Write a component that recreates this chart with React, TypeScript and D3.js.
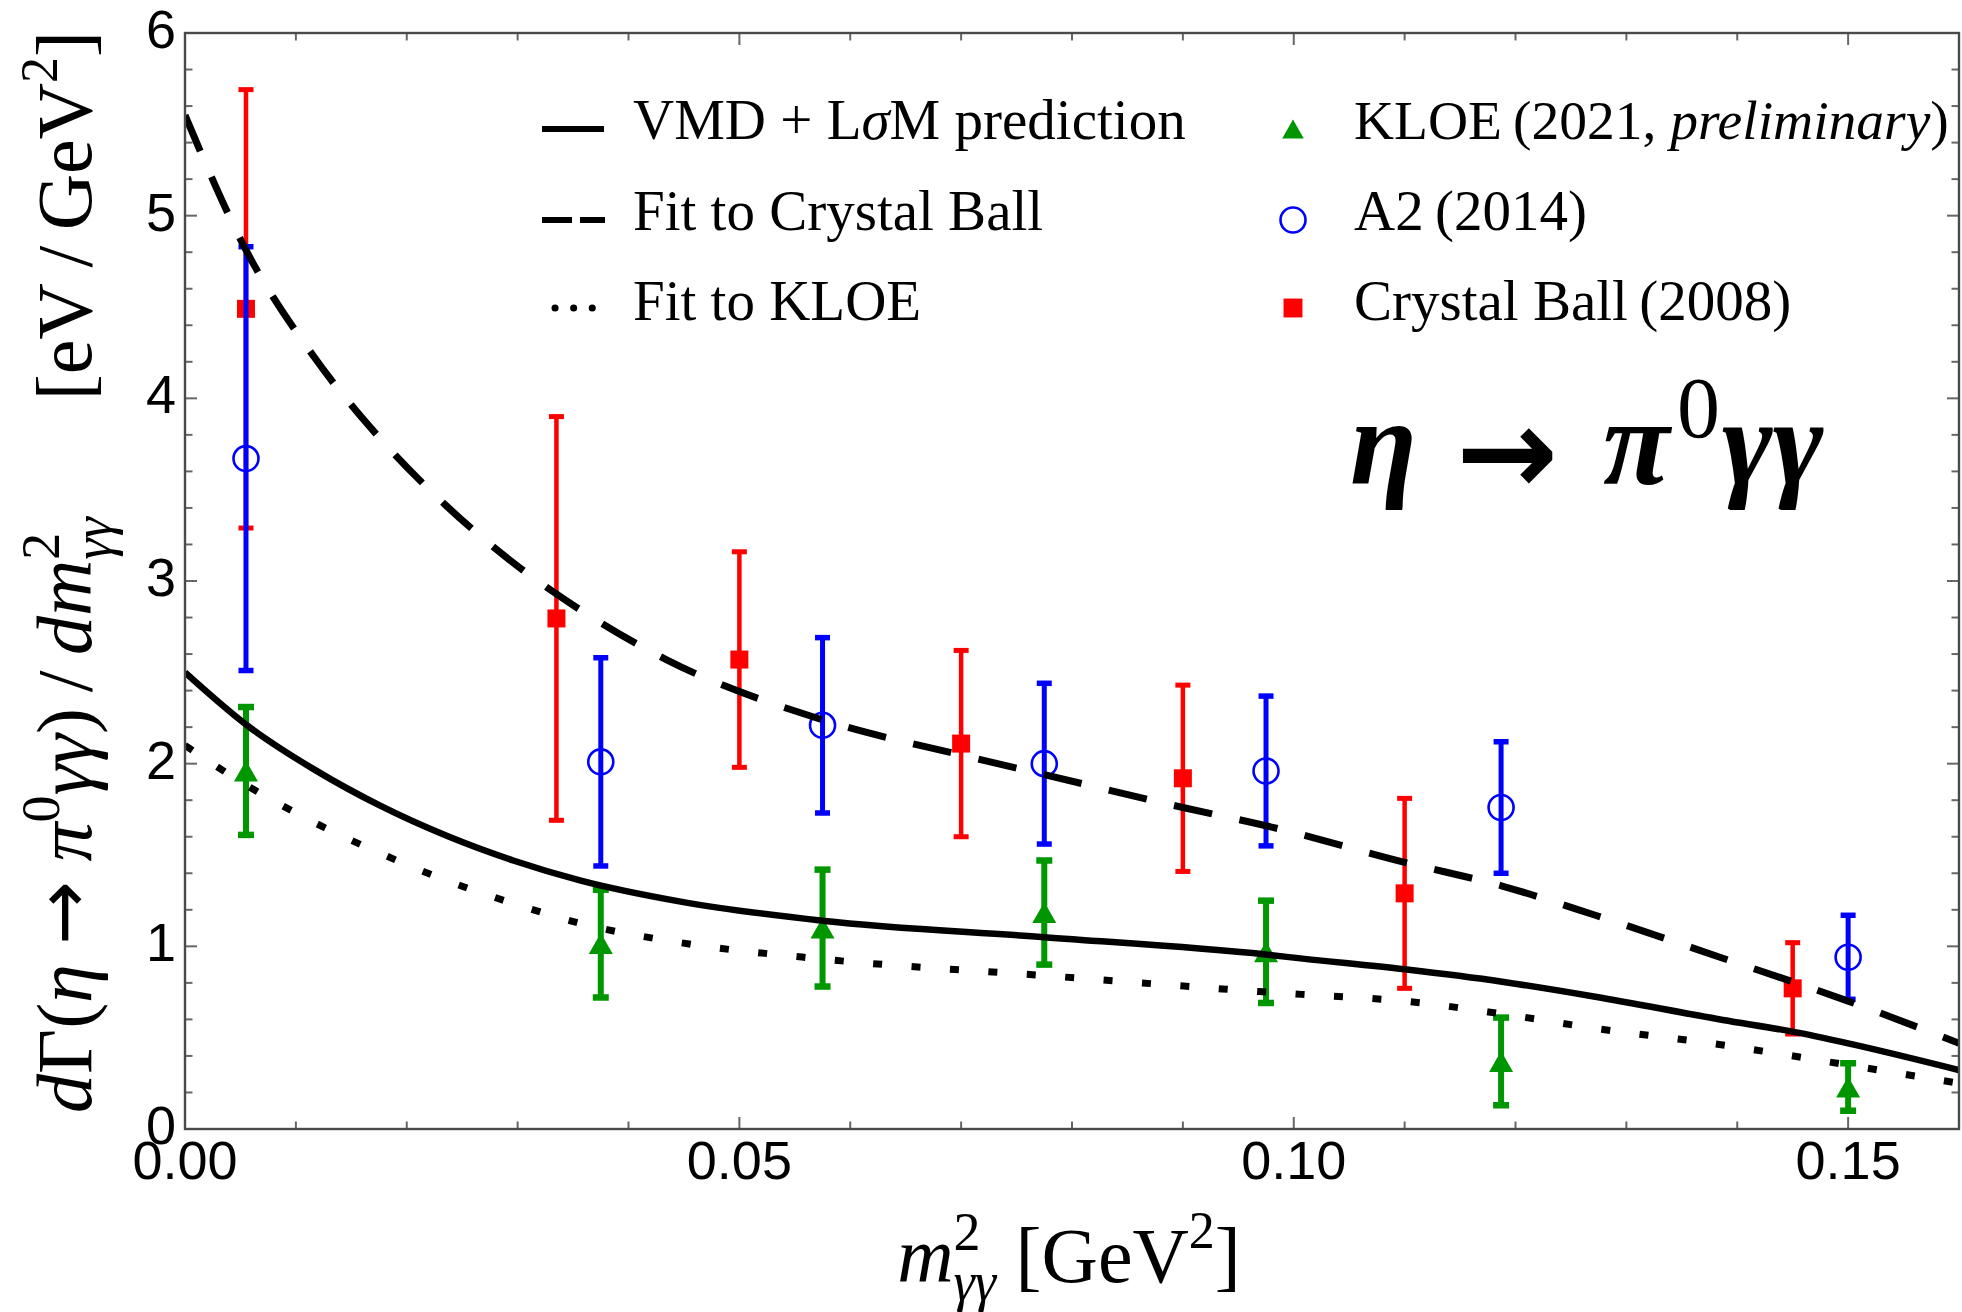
import React from "react";
import * as d3 from "d3";

const WIDTH = 1962;
const HEIGHT = 1312;

// axis ranges and tick labels
const xDomain = [0, 0.16];
const yDomain = [0, 6];
const xTickValues = [0, 0.05, 0.1, 0.15];
const xTickLabels = ["0.00", "0.05", "0.10", "0.15"];
const yTickValues = [0, 1, 2, 3, 4, 5, 6];
const yTickLabels = ["0", "1", "2", "3", "4", "5", "6"];

// Crystal Ball (2008)
const cbM2 = [0.0055, 0.0335, 0.05, 0.07, 0.09, 0.11, 0.145];
const cbRate = [4.49, 2.795, 2.57, 2.11, 1.92, 1.29, 0.77];
const cbErr = [1.2, 1.105, 0.59, 0.51, 0.51, 0.52, 0.25];

// A2 (2014)
const a2M2 = [0.0055, 0.0375, 0.0575, 0.0775, 0.0975, 0.1187, 0.15];
const a2Rate = [3.67, 2.01, 2.21, 2.0, 1.96, 1.76, 0.94];
const a2Err = [1.16, 0.57, 0.48, 0.44, 0.41, 0.36, 0.23];

// KLOE (2021, preliminary)
const kloeM2 = [0.0055, 0.0375, 0.0575, 0.0775, 0.0975, 0.1187, 0.15];
const kloeRate = [1.96, 1.015, 1.1, 1.185, 0.97, 0.37, 0.23];
const kloeErr = [0.35, 0.295, 0.32, 0.285, 0.28, 0.24, 0.13];

// VMD + LσM prediction
const vmdM2 = [0, 0.0056, 0.0116, 0.0176, 0.0236, 0.0296, 0.0357, 0.0447, 0.0575, 0.0775, 0.0975, 0.1006, 0.11, 0.1188, 0.1272, 0.1387, 0.145, 0.15, 0.16];
const vmdRate = [2.5, 2.21, 1.97, 1.77, 1.605, 1.47, 1.36, 1.245, 1.14, 1.05, 0.955, 0.934, 0.874, 0.806, 0.724, 0.597, 0.533, 0.469, 0.323];

// fit to Crystal Ball
const cbFitM2 = [0, 0.0056, 0.0116, 0.0176, 0.0236, 0.0296, 0.0357, 0.0434, 0.0575, 0.0705, 0.0775, 0.09, 0.0975, 0.11, 0.1188, 0.1272, 0.1387, 0.15, 0.16];
const cbFitRate = [5.55, 4.8, 4.23, 3.78, 3.41, 3.1, 2.84, 2.57, 2.24, 2.04, 1.94, 1.76, 1.66, 1.46, 1.33, 1.17, 0.935, 0.7, 0.47];

// fit to KLOE
const kloeFitM2 = [0, 0.0056, 0.0116, 0.0176, 0.0236, 0.0296, 0.0357, 0.0447, 0.0575, 0.0775, 0.0975, 0.1012, 0.11, 0.1188, 0.1272, 0.1387, 0.15, 0.16];
const kloeFitRate = [2.1, 1.88, 1.68, 1.51, 1.36, 1.235, 1.125, 1.02, 0.93, 0.84, 0.75, 0.735, 0.7, 0.63, 0.551, 0.46, 0.35, 0.25];

const RED = "#ff0000";
const BLUE = "#0000ff";
const GREEN = "#009600";
const FRAME = "#4a4a4a";
const SERIF = "'Liberation Serif', 'Times New Roman', serif";
const SANS = "'Liberation Sans', Arial, sans-serif";
const ARROW = "'DejaVu Sans', sans-serif";

const plot = { left: 185, right: 1959, top: 33, bottom: 1129 };

const x = d3.scaleLinear().domain(xDomain).range([plot.left, plot.right]);
const y = d3.scaleLinear().domain(yDomain).range([plot.bottom, plot.top]);

function curvePath(xs: number[], ys: number[]) {
  const line = d3
    .line<number>()
    .x((_, i) => x(xs[i]))
    .y((_, i) => y(ys[i]))
    .curve(d3.curveMonotoneX);
  return line(ys) || "";
}

function ErrorSeries(props: {
  xs: number[];
  ys: number[];
  es: number[];
  color: string;
  bar: number;
  cap: number;
  marker: "square" | "circle" | "triangle";
}) {
  const { xs, ys, es, color, bar, cap, marker } = props;
  return (
    <g>
      {xs.map((xv, i) => {
        const cx = x(xv);
        const cy = y(ys[i]);
        const top = y(ys[i] + es[i]);
        const bot = y(ys[i] - es[i]);
        return (
          <g key={i}>
            <line x1={cx} x2={cx} y1={top} y2={bot} stroke={color} strokeWidth={bar} />
            <line x1={cx - cap / 2} x2={cx + cap / 2} y1={top} y2={top} stroke={color} strokeWidth={bar + 0.5} />
            <line x1={cx - cap / 2} x2={cx + cap / 2} y1={bot} y2={bot} stroke={color} strokeWidth={bar + 0.5} />
            <Marker kind={marker} cx={cx} cy={cy} />
          </g>
        );
      })}
    </g>
  );
}

function Marker(props: { kind: "square" | "circle" | "triangle"; cx: number; cy: number; scale?: number }) {
  const { kind, cx, cy } = props;
  const s = props.scale ?? 1;
  if (kind === "square") {
    const a = 18 * s;
    return <rect x={cx - a / 2} y={cy - a / 2} width={a} height={a} fill={RED} />;
  }
  if (kind === "circle") {
    return <circle cx={cx} cy={cy} r={12.5 * s} fill="none" stroke={BLUE} strokeWidth={2.6} />;
  }
  const hw = 12 * s;
  const hh = 10.5 * s;
  return (
    <path
      d={`M${cx},${cy - hh}L${cx + hw},${cy + hh}L${cx - hw},${cy + hh}Z`}
      fill={GREEN}
    />
  );
}

export default function App() {
  const xMinor = x.ticks(16);
  const yMinor = y.ticks(30);
  const major = 12;
  const minor = 7.5;

  const legendRowsY = [129, 220, 308];
  const legendBase = [139, 230, 320];

  return (
    <div style={{ position: "absolute", left: 0, top: 0 }}>
      <svg width={WIDTH} height={HEIGHT} style={{ display: "block", background: "#fff" }}>
        <defs>
          <clipPath id="plot-area">
            <rect x={plot.left} y={plot.top} width={plot.right - plot.left} height={plot.bottom - plot.top} />
          </clipPath>
        </defs>
        <rect x={0} y={0} width={WIDTH} height={HEIGHT} fill="#fff" />

        {/* ticks on all four sides */}
        <g stroke="#666" strokeWidth={2}>
          {xMinor.map((t, i) => {
            const isMajor = xTickValues.some((m) => Math.abs(m - t) < 1e-9);
            const len = isMajor ? major : minor;
            return (
              <g key={"xt" + i}>
                <line x1={x(t)} x2={x(t)} y1={plot.bottom} y2={plot.bottom - len} />
                <line x1={x(t)} x2={x(t)} y1={plot.top} y2={plot.top + len} />
              </g>
            );
          })}
          {yMinor.map((t, i) => {
            const isMajor = Math.abs(t - Math.round(t)) < 1e-9;
            const len = isMajor ? major : minor;
            return (
              <g key={"yt" + i}>
                <line x1={plot.left} x2={plot.left + len} y1={y(t)} y2={y(t)} />
                <line x1={plot.right} x2={plot.right - len} y1={y(t)} y2={y(t)} />
              </g>
            );
          })}
        </g>

        {/* data with error bars */}
        <ErrorSeries xs={cbM2} ys={cbRate} es={cbErr} color={RED} bar={4.5} cap={15} marker="square" />
        <ErrorSeries xs={a2M2} ys={a2Rate} es={a2Err} color={BLUE} bar={5} cap={15} marker="circle" />
        <ErrorSeries xs={kloeM2} ys={kloeRate} es={kloeErr} color={GREEN} bar={6} cap={16} marker="triangle" />

        {/* model curves */}
        <g clipPath="url(#plot-area)" fill="none" stroke="#000">
          <path d={curvePath(vmdM2, vmdRate)} strokeWidth={6.5} />
          <path d={curvePath(cbFitM2, cbFitRate)} strokeWidth={7} strokeDasharray="39 28" />
          <path d={curvePath(kloeFitM2, kloeFitRate)} strokeWidth={7} strokeDasharray="9 29.5" />
        </g>

        {/* frame */}
        <rect
          x={plot.left}
          y={plot.top}
          width={plot.right - plot.left}
          height={plot.bottom - plot.top}
          fill="none"
          stroke={FRAME}
          strokeWidth={2.4}
        />

        {/* tick labels */}
        <g fontFamily={SANS} fontSize={54} fill="#000">
          {yTickValues.map((t, i) => (
            <text key={"yl" + i} x={176} y={y(t) + 15} textAnchor="end">
              {yTickLabels[i]}
            </text>
          ))}
          {xTickValues.map((t, i) => (
            <text key={"xl" + i} x={x(t)} y={1179} textAnchor="middle">
              {xTickLabels[i]}
            </text>
          ))}
        </g>

        {/* x axis title */}
        <text x={1069} y={1282} textAnchor="middle" fontFamily={SERIF} fontSize={78} style={{ whiteSpace: "pre" }}>
          <tspan fontStyle="italic">m</tspan>
          <tspan fontSize={54} dy={-32}>2</tspan>
          <tspan fontSize={54} fontStyle="italic" dx={-27} dy={50}>γγ</tspan>
          <tspan dy={-18}>{" [GeV"}</tspan>
          <tspan fontSize={52} dy={-34}>2</tspan>
          <tspan dy={34}>]</tspan>
        </text>

        {/* y axis title */}
        <text
          transform="translate(91,572) rotate(-90)"
          textAnchor="middle"
          fontFamily={SERIF}
          fontSize={78}
          style={{ whiteSpace: "pre" }}
        >
          <tspan fontStyle="italic">d</tspan>
          <tspan>Γ(</tspan>
          <tspan fontStyle="italic">η</tspan>
          <tspan>{" "}</tspan>
          <tspan fontFamily={ARROW} fontSize={76} dy={-2}>{"\u2192"}</tspan>
          <tspan dy={2}>{" "}</tspan>
          <tspan fontStyle="italic">π</tspan>
          <tspan fontSize={54} dy={-32}>0</tspan>
          <tspan fontStyle="italic" dy={32}>γγ</tspan>
          <tspan>{")\u2009/\u2009"}</tspan>
          <tspan fontStyle="italic">dm</tspan>
          <tspan fontSize={54} dy={-32}>2</tspan>
          <tspan fontSize={54} fontStyle="italic" dx={-27} dy={52}>γγ</tspan>
          <tspan dy={-20}>{"\u2003\u2002[eV\u2009/\u2009GeV"}</tspan>
          <tspan fontSize={52} dy={-34}>2</tspan>
          <tspan dy={34}>]</tspan>
        </text>

        {/* process label */}
        <text y={484} fontFamily={SERIF} fontSize={122} fontWeight="bold" fill="#000">
          <tspan x={1350} fontStyle="italic">η</tspan>
          <tspan x={1456} dy={10} fontFamily={ARROW} fontSize={122}>{"\u2192"}</tspan>
          <tspan x={1603} dy={-10} fontStyle="italic">π</tspan>
          <tspan x={1677} dy={-47} fontSize={86} fontWeight="normal">0</tspan>
          <tspan x={1722} dy={47} fontStyle="italic">γγ</tspan>
        </text>

        {/* legend: curves */}
        <g stroke="#000" fill="none">
          <line x1={542} x2={604} y1={legendRowsY[0]} y2={legendRowsY[0]} strokeWidth={6} />
          <line x1={542} x2={605} y1={legendRowsY[1]} y2={legendRowsY[1]} strokeWidth={6} strokeDasharray="30 8" />
          <line x1={555} x2={594} y1={legendRowsY[2]} y2={legendRowsY[2]} strokeWidth={7} strokeDasharray="0.1 18.5" strokeLinecap="round" />
        </g>
        <g fontFamily={SERIF} fontSize={57} fill="#000" style={{ whiteSpace: "pre" }}>
          <text x={633} y={legendBase[0]}>
            {"VMD + L"}
            <tspan fontStyle="italic">σ</tspan>
            {"M prediction"}
          </text>
          <text x={633} y={legendBase[1]}>Fit to Crystal Ball</text>
          <text x={633} y={legendBase[2]}>Fit to KLOE</text>
        </g>

        {/* legend: data */}
        <Marker kind="triangle" cx={1293} cy={legendRowsY[0]} scale={0.9} />
        <Marker kind="circle" cx={1293} cy={legendRowsY[1]} />
        <Marker kind="square" cx={1293} cy={legendRowsY[2]} scale={1.05} />
        <g fontFamily={SERIF} fontSize={57} fill="#000" style={{ whiteSpace: "pre" }}>
          <text x={1354} y={legendBase[0]} fontSize={55.5}>
            {"KLOE\u2009(2021, "}
            <tspan fontStyle="italic">preliminary</tspan>
            {")"}
          </text>
          <text x={1354} y={legendBase[1]}>{"A2\u2009(2014)"}</text>
          <text x={1354} y={legendBase[2]}>{"Crystal Ball\u2009(2008)"}</text>
        </g>
      </svg>
    </div>
  );
}
